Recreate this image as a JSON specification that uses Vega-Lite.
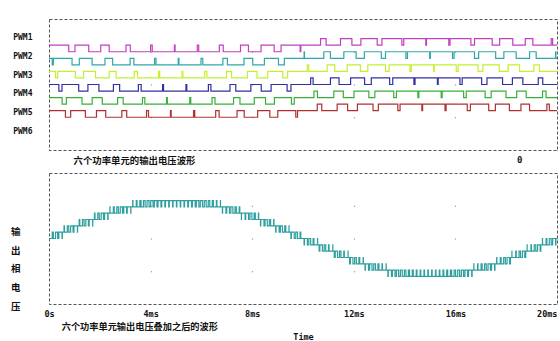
{
"$schema": "https://vega.github.io/schema/vega-lite/v6.json",
"background": "white",
"padding": {"left": 9, "top": 18, "right": 4, "bottom": 0},
"spacing": 23,
"bounds": "flush",
"config": {
  "view": {"stroke": "#555555", "strokeDash": [3, 2], "strokeWidth": 1},
  "axis": {"labelFont": "DejaVu Sans Mono", "labelFontWeight": "bold", "labelColor": "#111111", "titleColor": "#111111"}
},
"datasets": {
"top": [
{"p":1,"t":0,"v":8},{"p":1,"t":0.777,"v":7.5},{"p":1,"t":1.023,"v":8},{"p":1,"t":1.564,"v":7.5},{"p":1,"t":2.036,"v":8},{"p":1,"t":2.369,"v":7.5},{"p":1,"t":3.031,"v":8},{"p":1,"t":3.201,"v":7.5},{"p":1,"t":3.999,"v":8},{"p":1,"t":4.064,"v":7.5},{"p":1,"t":4.936,"v":8},{"p":1,"t":4.963,"v":7.5},{"p":1,"t":5.838,"v":8},{"p":1,"t":5.895,"v":7.5},{"p":1,"t":6.705,"v":8},{"p":1,"t":6.86,"v":7.5},{"p":1,"t":7.54,"v":8},{"p":1,"t":7.852,"v":7.5},{"p":1,"t":8.348,"v":8},{"p":1,"t":8.864,"v":7.5},{"p":1,"t":9.136,"v":8},{"p":1,"t":9.886,"v":7.5},{"p":1,"t":9.914,"v":8},
{"p":1,"t":10.69,"v":8.5},{"p":1,"t":10.91,"v":8},{"p":1,"t":11.476,"v":8.5},{"p":1,"t":11.925,"v":8},{"p":1,"t":12.279,"v":8.5},{"p":1,"t":12.922,"v":8},{"p":1,"t":13.107,"v":8.5},{"p":1,"t":13.893,"v":8},{"p":1,"t":13.967,"v":8.5},{"p":1,"t":14.833,"v":8},{"p":1,"t":14.861,"v":8.5},{"p":1,"t":15.739,"v":8},{"p":1,"t":15.79,"v":8.5},{"p":1,"t":16.61,"v":8},{"p":1,"t":16.752,"v":8.5},{"p":1,"t":17.449,"v":8},{"p":1,"t":17.741,"v":8.5},{"p":1,"t":18.259,"v":8},{"p":1,"t":18.751,"v":8.5},{"p":1,"t":19.049,"v":8},{"p":1,"t":19.772,"v":8.5},{"p":1,"t":19.828,"v":8},{"p":1,"t":20,"v":8},
{"p":2,"t":0,"v":7},{"p":2,"t":0.129,"v":6.5},{"p":2,"t":0.171,"v":7},{"p":2,"t":0.907,"v":6.5},{"p":2,"t":1.193,"v":7},{"p":2,"t":1.696,"v":6.5},{"p":2,"t":2.204,"v":7},{"p":2,"t":2.506,"v":6.5},{"p":2,"t":3.194,"v":7},{"p":2,"t":3.343,"v":6.5},{"p":2,"t":4.157,"v":7},{"p":2,"t":4.212,"v":6.5},{"p":2,"t":5.088,"v":7},{"p":2,"t":5.116,"v":6.5},{"p":2,"t":5.984,"v":7},{"p":2,"t":6.054,"v":6.5},{"p":2,"t":6.846,"v":7},{"p":2,"t":7.024,"v":6.5},{"p":2,"t":7.676,"v":7},{"p":2,"t":8.02,"v":6.5},{"p":2,"t":8.48,"v":7},{"p":2,"t":9.034,"v":6.5},{"p":2,"t":9.266,"v":7},
{"p":2,"t":10.043,"v":7.5},{"p":2,"t":10.057,"v":7},{"p":2,"t":10.82,"v":7.5},{"p":2,"t":11.08,"v":7},{"p":2,"t":11.608,"v":7.5},{"p":2,"t":12.092,"v":7},{"p":2,"t":12.415,"v":7.5},{"p":2,"t":13.085,"v":7},{"p":2,"t":13.248,"v":7.5},{"p":2,"t":14.052,"v":7},{"p":2,"t":14.113,"v":7.5},{"p":2,"t":14.987,"v":7},{"p":2,"t":15.013,"v":7.5},{"p":2,"t":15.887,"v":7},{"p":2,"t":15.948,"v":7.5},{"p":2,"t":16.752,"v":7},{"p":2,"t":16.915,"v":7.5},{"p":2,"t":17.585,"v":7},{"p":2,"t":17.908,"v":7.5},{"p":2,"t":18.392,"v":7},{"p":2,"t":18.92,"v":7.5},{"p":2,"t":19.18,"v":7},{"p":2,"t":19.943,"v":7.5},{"p":2,"t":19.957,"v":7},{"p":2,"t":20,"v":7},
{"p":3,"t":0,"v":6},{"p":3,"t":0.259,"v":5.5},{"p":3,"t":0.342,"v":6},{"p":3,"t":1.038,"v":5.5},{"p":3,"t":1.362,"v":6},{"p":3,"t":1.83,"v":5.5},{"p":3,"t":2.37,"v":6},{"p":3,"t":2.643,"v":5.5},{"p":3,"t":3.357,"v":6},{"p":3,"t":3.485,"v":5.5},{"p":3,"t":4.315,"v":6},{"p":3,"t":4.36,"v":5.5},{"p":3,"t":5.24,"v":6},{"p":3,"t":5.27,"v":5.5},{"p":3,"t":6.13,"v":6},{"p":3,"t":6.214,"v":5.5},{"p":3,"t":6.986,"v":6},{"p":3,"t":7.188,"v":5.5},{"p":3,"t":7.812,"v":6},{"p":3,"t":8.188,"v":5.5},{"p":3,"t":8.613,"v":6},{"p":3,"t":9.204,"v":5.5},{"p":3,"t":9.396,"v":6},
{"p":3,"t":10.172,"v":6.5},{"p":3,"t":10.228,"v":6},{"p":3,"t":10.951,"v":6.5},{"p":3,"t":11.249,"v":6},{"p":3,"t":11.741,"v":6.5},{"p":3,"t":12.259,"v":6},{"p":3,"t":12.552,"v":6.5},{"p":3,"t":13.249,"v":6},{"p":3,"t":13.39,"v":6.5},{"p":3,"t":14.21,"v":6},{"p":3,"t":14.261,"v":6.5},{"p":3,"t":15.139,"v":6},{"p":3,"t":15.167,"v":6.5},{"p":3,"t":16.033,"v":6},{"p":3,"t":16.107,"v":6.5},{"p":3,"t":16.893,"v":6},{"p":3,"t":17.079,"v":6.5},{"p":3,"t":17.722,"v":6},{"p":3,"t":18.076,"v":6.5},{"p":3,"t":18.525,"v":6},{"p":3,"t":19.09,"v":6.5},{"p":3,"t":19.31,"v":6},{"p":3,"t":20,"v":6},
{"p":4,"t":0,"v":5},{"p":4,"t":0.388,"v":4.5},{"p":4,"t":0.512,"v":5},{"p":4,"t":1.169,"v":4.5},{"p":4,"t":1.532,"v":5},{"p":4,"t":1.964,"v":4.5},{"p":4,"t":2.536,"v":5},{"p":4,"t":2.781,"v":4.5},{"p":4,"t":3.519,"v":5},{"p":4,"t":3.629,"v":4.5},{"p":4,"t":4.472,"v":5},{"p":4,"t":4.509,"v":4.5},{"p":4,"t":5.391,"v":5},{"p":4,"t":5.425,"v":4.5},{"p":4,"t":6.275,"v":5},{"p":4,"t":6.374,"v":4.5},{"p":4,"t":7.126,"v":5},{"p":4,"t":7.353,"v":4.5},{"p":4,"t":7.947,"v":5},{"p":4,"t":8.356,"v":4.5},{"p":4,"t":8.744,"v":5},{"p":4,"t":9.374,"v":4.5},{"p":4,"t":9.526,"v":5},
{"p":4,"t":10.302,"v":5.5},{"p":4,"t":10.398,"v":5},{"p":4,"t":11.081,"v":5.5},{"p":4,"t":11.419,"v":5},{"p":4,"t":11.874,"v":5.5},{"p":4,"t":12.426,"v":5},{"p":4,"t":12.689,"v":5.5},{"p":4,"t":13.411,"v":5},{"p":4,"t":13.533,"v":5.5},{"p":4,"t":14.367,"v":5},{"p":4,"t":14.41,"v":5.5},{"p":4,"t":15.291,"v":5},{"p":4,"t":15.321,"v":5.5},{"p":4,"t":16.179,"v":5},{"p":4,"t":16.267,"v":5.5},{"p":4,"t":17.033,"v":5},{"p":4,"t":17.243,"v":5.5},{"p":4,"t":17.857,"v":5},{"p":4,"t":18.244,"v":5.5},{"p":4,"t":18.656,"v":5},{"p":4,"t":19.261,"v":5.5},{"p":4,"t":19.439,"v":5},{"p":4,"t":20,"v":5},
{"p":5,"t":0,"v":4},{"p":5,"t":0.517,"v":3.5},{"p":5,"t":0.683,"v":4},{"p":5,"t":1.3,"v":3.5},{"p":5,"t":1.7,"v":4},{"p":5,"t":2.098,"v":3.5},{"p":5,"t":2.702,"v":4},{"p":5,"t":2.92,"v":3.5},{"p":5,"t":3.68,"v":4},{"p":5,"t":3.773,"v":3.5},{"p":5,"t":4.627,"v":4},{"p":5,"t":4.659,"v":3.5},{"p":5,"t":5.541,"v":4},{"p":5,"t":5.581,"v":3.5},{"p":5,"t":6.419,"v":4},{"p":5,"t":6.535,"v":3.5},{"p":5,"t":7.265,"v":4},{"p":5,"t":7.519,"v":3.5},{"p":5,"t":8.081,"v":4},{"p":5,"t":8.525,"v":3.5},{"p":5,"t":8.875,"v":4},{"p":5,"t":9.545,"v":3.5},{"p":5,"t":9.655,"v":4},
{"p":5,"t":10.431,"v":4.5},{"p":5,"t":10.569,"v":4},{"p":5,"t":11.212,"v":4.5},{"p":5,"t":11.588,"v":4},{"p":5,"t":12.008,"v":4.5},{"p":5,"t":12.592,"v":4},{"p":5,"t":12.828,"v":4.5},{"p":5,"t":13.572,"v":4},{"p":5,"t":13.677,"v":4.5},{"p":5,"t":14.524,"v":4},{"p":5,"t":14.559,"v":4.5},{"p":5,"t":15.441,"v":4},{"p":5,"t":15.477,"v":4.5},{"p":5,"t":16.324,"v":4},{"p":5,"t":16.428,"v":4.5},{"p":5,"t":17.172,"v":4},{"p":5,"t":17.408,"v":4.5},{"p":5,"t":17.992,"v":4},{"p":5,"t":18.412,"v":4.5},{"p":5,"t":18.788,"v":4},{"p":5,"t":19.431,"v":4.5},{"p":5,"t":19.569,"v":4},{"p":5,"t":20,"v":4},
{"p":6,"t":0,"v":3},{"p":6,"t":0.647,"v":2.5},{"p":6,"t":0.853,"v":3},{"p":6,"t":1.432,"v":2.5},{"p":6,"t":1.869,"v":3},{"p":6,"t":2.233,"v":2.5},{"p":6,"t":2.867,"v":3},{"p":6,"t":3.06,"v":2.5},{"p":6,"t":3.84,"v":3},{"p":6,"t":3.918,"v":2.5},{"p":6,"t":4.782,"v":3},{"p":6,"t":4.81,"v":2.5},{"p":6,"t":5.69,"v":3},{"p":6,"t":5.738,"v":2.5},{"p":6,"t":6.563,"v":3},{"p":6,"t":6.697,"v":2.5},{"p":6,"t":7.403,"v":3},{"p":6,"t":7.685,"v":2.5},{"p":6,"t":8.215,"v":3},{"p":6,"t":8.694,"v":2.5},{"p":6,"t":9.006,"v":3},{"p":6,"t":9.715,"v":2.5},{"p":6,"t":9.785,"v":3},
{"p":6,"t":10.561,"v":3.5},{"p":6,"t":10.739,"v":3},{"p":6,"t":11.344,"v":3.5},{"p":6,"t":11.756,"v":3},{"p":6,"t":12.143,"v":3.5},{"p":6,"t":12.757,"v":3},{"p":6,"t":12.967,"v":3.5},{"p":6,"t":13.733,"v":3},{"p":6,"t":13.821,"v":3.5},{"p":6,"t":14.679,"v":3},{"p":6,"t":14.71,"v":3.5},{"p":6,"t":15.591,"v":3},{"p":6,"t":15.633,"v":3.5},{"p":6,"t":16.467,"v":3},{"p":6,"t":16.589,"v":3.5},{"p":6,"t":17.311,"v":3},{"p":6,"t":17.574,"v":3.5},{"p":6,"t":18.126,"v":3},{"p":6,"t":18.581,"v":3.5},{"p":6,"t":18.919,"v":3},{"p":6,"t":19.602,"v":3.5},{"p":6,"t":19.698,"v":3},{"p":6,"t":20,"v":3}
],
"bot": [
{"t":0,"v":0},{"t":0.129,"v":1},{"t":0.171,"v":0},{"t":0.259,"v":1},{"t":0.342,"v":0},{"t":0.388,"v":1},{"t":0.512,"v":0},{"t":0.525,"v":1},
{"t":0.592,"v":2},{"t":0.608,"v":1},{"t":0.722,"v":2},{"t":0.778,"v":1},{"t":0.852,"v":2},{"t":0.948,"v":1},{"t":0.982,"v":2},{"t":1.118,"v":1},{"t":1.125,"v":2},
{"t":1.188,"v":3},{"t":1.212,"v":2},{"t":1.319,"v":3},{"t":1.382,"v":2},{"t":1.45,"v":3},{"t":1.55,"v":2},{"t":1.581,"v":3},{"t":1.719,"v":2},{"t":1.725,"v":3},
{"t":1.789,"v":4},{"t":1.811,"v":3},{"t":1.921,"v":4},{"t":1.979,"v":3},{"t":2.055,"v":4},{"t":2.145,"v":3},{"t":2.189,"v":4},{"t":2.311,"v":3},{"t":2.325,"v":4},
{"t":2.398,"v":5},{"t":2.402,"v":4},{"t":2.533,"v":5},{"t":2.567,"v":4},{"t":2.669,"v":5},{"t":2.731,"v":4},{"t":2.806,"v":5},{"t":2.894,"v":4},{"t":2.943,"v":5},{"t":3.057,"v":4},{"t":3.081,"v":5},{"t":3.219,"v":4},{"t":3.225,"v":5},
{"t":3.295,"v":6},{"t":3.305,"v":5},{"t":3.435,"v":6},{"t":3.465,"v":5},{"t":3.576,"v":6},{"t":3.624,"v":5},{"t":3.718,"v":6},{"t":3.783,"v":5},{"t":3.86,"v":6},{"t":3.94,"v":5},{"t":4.004,"v":6},{"t":4.097,"v":5},{"t":4.148,"v":6},{"t":4.252,"v":5},{"t":4.293,"v":6},{"t":4.407,"v":5},{"t":4.439,"v":6},{"t":4.561,"v":5},{"t":4.587,"v":6},{"t":4.713,"v":5},{"t":4.735,"v":6},{"t":4.865,"v":5},{"t":4.884,"v":6},{"t":5.016,"v":5},{"t":5.034,"v":6},{"t":5.166,"v":5},{"t":5.185,"v":6},{"t":5.315,"v":5},{"t":5.337,"v":6},{"t":5.463,"v":5},{"t":5.491,"v":6},{"t":5.609,"v":5},{"t":5.645,"v":6},{"t":5.755,"v":5},{"t":5.8,"v":6},{"t":5.9,"v":5},{"t":5.956,"v":6},{"t":6.044,"v":5},{"t":6.113,"v":6},{"t":6.188,"v":5},{"t":6.27,"v":6},{"t":6.33,"v":5},{"t":6.429,"v":6},{"t":6.471,"v":5},{"t":6.589,"v":6},{"t":6.612,"v":5},{"t":6.749,"v":6},{"t":6.751,"v":5},{"t":6.825,"v":4},
{"t":6.835,"v":5},{"t":6.965,"v":4},{"t":6.997,"v":5},{"t":7.103,"v":4},{"t":7.16,"v":5},{"t":7.24,"v":4},{"t":7.324,"v":5},{"t":7.376,"v":4},{"t":7.488,"v":5},{"t":7.512,"v":4},{"t":7.575,"v":3},
{"t":7.578,"v":4},{"t":7.722,"v":3},{"t":7.744,"v":4},{"t":7.856,"v":3},{"t":7.91,"v":4},{"t":7.99,"v":3},{"t":8.077,"v":4},{"t":8.123,"v":3},{"t":8.245,"v":4},{"t":8.255,"v":3},{"t":8.325,"v":2},
{"t":8.338,"v":3},{"t":8.463,"v":2},{"t":8.506,"v":3},{"t":8.594,"v":2},{"t":8.675,"v":3},{"t":8.725,"v":2},{"t":8.844,"v":3},{"t":8.856,"v":2},{"t":8.925,"v":1},
{"t":8.939,"v":2},{"t":9.061,"v":1},{"t":9.109,"v":2},{"t":9.191,"v":1},{"t":9.279,"v":2},{"t":9.321,"v":1},{"t":9.449,"v":2},{"t":9.451,"v":1},{"t":9.525,"v":0},
{"t":9.545,"v":1},{"t":9.655,"v":0},{"t":9.715,"v":1},{"t":9.785,"v":0},{"t":9.886,"v":1},{"t":9.914,"v":0},
{"t":10.043,"v":-1},{"t":10.057,"v":0},{"t":10.172,"v":-1},{"t":10.228,"v":0},{"t":10.302,"v":-1},{"t":10.398,"v":0},{"t":10.431,"v":-1},{"t":10.569,"v":0},{"t":10.575,"v":-1},
{"t":10.636,"v":-2},{"t":10.664,"v":-1},{"t":10.765,"v":-2},{"t":10.835,"v":-1},{"t":10.895,"v":-2},{"t":11.005,"v":-1},{"t":11.026,"v":-2},{"t":11.174,"v":-1},{"t":11.175,"v":-2},
{"t":11.231,"v":-3},{"t":11.269,"v":-2},{"t":11.362,"v":-3},{"t":11.438,"v":-2},{"t":11.494,"v":-3},{"t":11.606,"v":-2},{"t":11.626,"v":-3},{"t":11.774,"v":-2},{"t":11.775,"v":-3},
{"t":11.833,"v":-4},{"t":11.867,"v":-3},{"t":11.966,"v":-4},{"t":12.034,"v":-3},{"t":12.099,"v":-4},{"t":12.201,"v":-3},{"t":12.233,"v":-4},{"t":12.367,"v":-3},{"t":12.375,"v":-4},
{"t":12.443,"v":-5},{"t":12.457,"v":-4},{"t":12.578,"v":-5},{"t":12.622,"v":-4},{"t":12.715,"v":-5},{"t":12.785,"v":-4},{"t":12.852,"v":-5},{"t":12.949,"v":-4},{"t":12.989,"v":-5},{"t":13.111,"v":-4},{"t":13.128,"v":-5},{"t":13.272,"v":-4},{"t":13.275,"v":-5},
{"t":13.342,"v":-6},{"t":13.358,"v":-5},{"t":13.482,"v":-6},{"t":13.518,"v":-5},{"t":13.623,"v":-6},{"t":13.677,"v":-5},{"t":13.765,"v":-6},{"t":13.835,"v":-5},{"t":13.908,"v":-6},{"t":13.992,"v":-5},{"t":14.052,"v":-6},{"t":14.149,"v":-5},{"t":14.196,"v":-6},{"t":14.304,"v":-5},{"t":14.342,"v":-6},{"t":14.458,"v":-5},{"t":14.488,"v":-6},{"t":14.612,"v":-5},{"t":14.636,"v":-6},{"t":14.764,"v":-5},{"t":14.784,"v":-6},{"t":14.916,"v":-5},{"t":14.934,"v":-6},{"t":15.066,"v":-5},{"t":15.084,"v":-6},{"t":15.216,"v":-5},{"t":15.236,"v":-6},{"t":15.364,"v":-5},{"t":15.388,"v":-6},{"t":15.512,"v":-5},{"t":15.542,"v":-6},{"t":15.658,"v":-5},{"t":15.696,"v":-6},{"t":15.804,"v":-5},{"t":15.851,"v":-6},{"t":15.949,"v":-5},{"t":16.008,"v":-6},{"t":16.092,"v":-5},{"t":16.165,"v":-6},{"t":16.235,"v":-5},{"t":16.323,"v":-6},{"t":16.377,"v":-5},{"t":16.482,"v":-6},{"t":16.518,"v":-5},{"t":16.642,"v":-6},{"t":16.658,"v":-5},{"t":16.725,"v":-4},
{"t":16.728,"v":-5},{"t":16.872,"v":-4},{"t":16.889,"v":-5},{"t":17.011,"v":-4},{"t":17.052,"v":-5},{"t":17.149,"v":-4},{"t":17.215,"v":-5},{"t":17.285,"v":-4},{"t":17.378,"v":-5},{"t":17.422,"v":-4},{"t":17.543,"v":-5},{"t":17.557,"v":-4},{"t":17.625,"v":-3},
{"t":17.633,"v":-4},{"t":17.767,"v":-3},{"t":17.799,"v":-4},{"t":17.901,"v":-3},{"t":17.966,"v":-4},{"t":18.034,"v":-3},{"t":18.133,"v":-4},{"t":18.167,"v":-3},{"t":18.225,"v":-2},
{"t":18.226,"v":-3},{"t":18.374,"v":-2},{"t":18.394,"v":-3},{"t":18.506,"v":-2},{"t":18.562,"v":-3},{"t":18.638,"v":-2},{"t":18.731,"v":-3},{"t":18.769,"v":-2},{"t":18.825,"v":-1},
{"t":18.826,"v":-2},{"t":18.974,"v":-1},{"t":18.995,"v":-2},{"t":19.105,"v":-1},{"t":19.165,"v":-2},{"t":19.235,"v":-1},{"t":19.336,"v":-2},{"t":19.364,"v":-1},{"t":19.425,"v":0},
{"t":19.431,"v":-1},{"t":19.569,"v":0},{"t":19.602,"v":-1},{"t":19.698,"v":0},{"t":19.772,"v":-1},{"t":19.828,"v":0},{"t":19.943,"v":-1},{"t":19.957,"v":0},{"t":20,"v":0}
]
},
"vconcat": [
{
  "width": 508, "height": 131,
  "data": {"name": "top"},
  "title": {"text": "0", "orient": "bottom", "anchor": "start", "frame": "group", "dx": 468, "dy": -8, "offset": 0, "font": "DejaVu Sans Mono", "fontSize": 9, "fontWeight": "bold", "color": "#111111"},
  "mark": {"type": "line", "interpolate": "step-after", "strokeWidth": 1.2},
  "encoding": {
    "x": {"field": "t", "type": "quantitative", "scale": {"domain": [0, 20], "nice": false, "zero": false},
      "axis": {"values": [0, 4, 8, 12, 16, 20], "labels": false, "ticks": false, "domain": false, "grid": true, "gridColor": "#888888", "gridDash": [1, 31.75], "gridDashOffset": 0.5, "gridWidth": 1.2,
        "title": "六个功率单元的输出电压波形", "titleFont": "Noto Sans CJK SC", "titleFontSize": 9.4, "titleFontWeight": "bold", "titleX": 24, "titleY": 10, "titleAlign": "left", "titleBaseline": "middle", "titleAnchor": "start"}},
    "y": {"field": "v", "type": "quantitative", "scale": {"domain": [0, 10], "nice": false, "zero": false},
      "axis": {"values": [8.571, 7.143, 5.714, 4.286, 2.857, 1.429], "labelExpr": "'PWM' + round((10 - datum.value) / 1.4286)", "domain": false, "ticks": false, "grid": false, "labelPadding": 17, "labelFontSize": 8, "title": null}},
    "color": {"field": "p", "type": "nominal", "scale": {"domain": [1, 2, 3, 4, 5, 6], "range": ["#c040c0", "#30a8a8", "#c4f030", "#3030a0", "#38b038", "#b03030"]}, "legend": null}
  }
},
{
  "width": 508, "height": 131,
  "data": {"name": "bot"},
  "title": {"text": "六个功率单元输出电压叠加之后的波形", "orient": "bottom", "anchor": "start", "frame": "group", "dx": 12.7, "dy": -18, "offset": 0, "font": "Noto Sans CJK SC", "fontSize": 9.2, "fontWeight": "bold", "color": "#111111"},
  "mark": {"type": "line", "interpolate": "step-after", "strokeWidth": 1.2, "color": "#2e9e9e"},
  "encoding": {
    "x": {"field": "t", "type": "quantitative", "scale": {"domain": [0, 20], "nice": false, "zero": false},
      "axis": {"values": [0, 4, 8, 12, 16, 20], "labelExpr": "datum.value == 0 ? '0s' : datum.value + 'ms'", "labelAlign": {"condition": {"test": "datum.value == 20", "value": "right"}, "value": "center"}, "labelPadding": 5, "labelFontSize": 8.5, "ticks": false, "domain": false, "grid": true, "gridColor": "#888888", "gridDash": [1, 31.75], "gridDashOffset": 0.5, "gridWidth": 1.2,
        "title": "Time", "titleFont": "DejaVu Sans Mono", "titleFontSize": 8.5, "titleFontWeight": "bold", "titleX": 254, "titleY": 32, "titleAlign": "center", "titleBaseline": "middle"}},
    "y": {"field": "v", "type": "quantitative", "scale": {"domain": [-10.35, 10.35], "nice": false, "zero": false},
      "axis": {"labels": false, "ticks": false, "domain": false, "grid": false, "title": ["输", "出", "相", "电", "压"], "titleAngle": 0, "titleX": -33.8, "titleY": 58.4, "titleAlign": "center", "titleBaseline": "middle", "titleLineHeight": 18.8, "titleFont": "Noto Sans CJK SC", "titleFontSize": 9.5, "titleFontWeight": "bold"}}
  }
}
]
}
